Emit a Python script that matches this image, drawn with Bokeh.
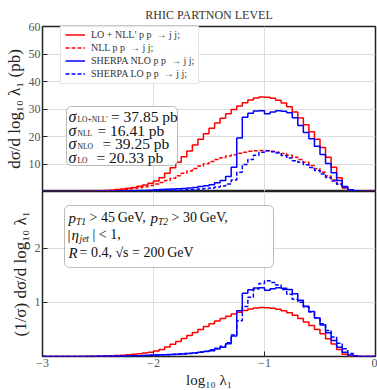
import numpy as np
from bokeh.plotting import figure
from bokeh.layouts import column
from bokeh.models import (FixedTicker, Legend, LegendItem, Label, BoxAnnotation, Range1d)
from bokeh.embed import file_html
from bokeh.resources import INLINE

# ---------------- data (histograms, 0.05 bins from -3 to 0) ----------------
BIN_START = -3.0
BIN_WIDTH = 0.05

lo_nll = [0, 0, 0, 0, 0, 0, 0, 0.05, 0.1, 0.15,
          0.25, 0.35, 0.5, 0.7, 0.9, 1.2, 1.5, 1.9, 2.4, 3.0,
          3.8, 5.0, 6.6, 8.6, 10.6, 12.6, 14.7, 16.9, 19.0, 21.0,
          23.0, 24.9, 26.6, 28.3, 29.8, 31.1, 32.3, 33.3, 34.0, 34.4,
          34.3, 33.9, 33.2, 32.2, 30.8, 28.9, 26.7, 24.3, 21.7, 19.0,
          16.0, 12.5, 8.8, 5.0, 1.5, 0.1, 0, 0, 0, 0]

nll = [0, 0, 0, 0, 0, 0, 0, 0.02, 0.05, 0.1,
       0.15, 0.25, 0.35, 0.5, 0.65, 0.85, 1.1, 1.4, 1.75, 2.2,
       2.7, 3.3, 4.0, 4.8, 5.7, 6.6, 7.5, 8.4, 9.3, 10.1,
       10.9, 11.6, 12.3, 12.9, 13.4, 13.9, 14.3, 14.6, 14.8, 14.9,
       14.8, 14.6, 14.3, 13.8, 13.2, 12.5, 11.6, 10.6, 9.5, 8.3,
       7.0, 5.6, 4.2, 2.8, 1.3, 0.2, 0, 0, 0, 0]

sherpa_nlo = [0, 0, 0, 0, 0, 0, 0, 0.02, 0.03, 0.05,
              0.07, 0.1, 0.12, 0.15, 0.2, 0.25, 0.3, 0.35, 0.4, 0.5,
              0.6, 0.7, 0.8, 0.9, 1.0, 1.1, 1.3, 1.5, 1.8, 2.1,
              2.5, 3.2, 4.0, 5.5, 8.8, 19.5, 27.0, 28.5, 29.3, 29.4,
              28.3, 28.9, 29.4, 29.2, 28.6, 26.8, 24.0, 21.5, 19.2, 16.5,
              13.5, 10.2, 6.8, 4.0, 1.8, 0.6, 0.15, 0, 0, 0]

sherpa_lo = [0, 0, 0, 0, 0, 0, 0, 0.01, 0.02, 0.03,
             0.04, 0.05, 0.06, 0.08, 0.1, 0.12, 0.14, 0.17, 0.2, 0.24,
             0.28, 0.33, 0.38, 0.44, 0.5, 0.57, 0.65, 0.75, 0.88, 1.05,
             1.3, 1.6, 2.0, 2.7, 4.2, 7.0, 9.8, 11.6, 13.2, 14.3,
             14.8, 14.5, 14.0, 13.1, 12.2, 11.2, 10.6, 9.7, 8.7, 7.6,
             6.4, 5.1, 3.8, 2.6, 1.5, 0.6, 0.15, 0, 0, 0]

series_names = ["LO + NLL\u2032 p p  \u2192 j j;", "NLL p p  \u2192 j j;",
                "SHERPA NLO p p  \u2192 j j;", "SHERPA LO p p  \u2192 j j;"]

sigma_subscripts = ["LO+NLL\u2032", "NLL", "NLO", "LO"]
sigma_values = ["37.85", "16.41", "39.25", "20.33"]

x_ticks = [-3, -2, -1, 0]
x_tick_labels = {-3: "\u22123", -2: "\u22122", -1: "\u22121", 0: "0"}
top_y_ticks = [10, 20, 30, 40, 50, 60]
bot_y_ticks = [1, 2]

TITLE = "RHIC PARTNON LEVEL"

# ---------------- geometry ----------------
FW, FH = 333, 165
LEFT = 42
TOP_Y_MAX = 60
BOT_Y_MAX = 3.055
SERIF = "Liberation Serif"
RED = "#ff0000"
BLUE = "#0000ff"

def tx(px):
    return -3 + 3.0 * (px - LEFT) / FW

def ty_top(py):
    return TOP_Y_MAX * (189 - py) / FH

def ty_bot(py):
    return BOT_Y_MAX * (354 - py) / FH

edges = BIN_START + BIN_WIDTH * np.arange(len(lo_nll) + 1)

def step_y(vals):
    v = np.asarray(vals, dtype=float)
    return np.append(v, v[-1])

def style(p):
    p.outline_line_color = "#222222"
    p.outline_line_width = 1.5
    p.grid.grid_line_color = "#dddddd"
    p.grid.grid_line_width = 1
    for ax in p.axis:
        ax.axis_line_color = None
        ax.major_tick_in = 5
        ax.major_tick_out = 0
        ax.minor_tick_line_color = None
        ax.major_tick_line_color = "#222222"
        ax.major_label_text_font = SERIF
        ax.major_label_text_font_size = "12px"
        ax.major_label_text_color = "#555555"
        ax.axis_label_text_font = SERIF
        ax.axis_label_text_font_style = "normal"
        ax.axis_label_text_font_size = "17px"
        ax.axis_label_text_color = "#222222"
        ax.major_label_standoff = 2
        ax.axis_label_standoff = 2

# ---------------- top panel ----------------
p1 = figure(frame_width=FW, frame_height=FH, output_backend="svg", toolbar_location=None,
            x_range=Range1d(-3, 0), y_range=Range1d(0, TOP_Y_MAX),
            min_border_left=LEFT, min_border_right=2, min_border_top=0, min_border_bottom=0,
            title=TITLE)
p1.title.align = "center"
p1.title.text_font = SERIF
p1.title.text_font_style = "normal"
p1.title.text_font_size = "12px"
p1.title.text_color = "#333333"
p1.title.offset = 0
p1.xaxis.visible = False
p1.xaxis.ticker = FixedTicker(ticks=x_ticks)
p1.yaxis.ticker = FixedTicker(ticks=top_y_ticks)
p1.yaxis.axis_label = "d\u03c3/d log\u2081\u2080 \u03bb\u2081 (pb)"
style(p1)

r1 = p1.step(edges, step_y(lo_nll), mode="after", line_color=RED, line_width=1.5)
r2 = p1.step(edges, step_y(nll), mode="after", line_color=RED, line_width=1.5, line_dash="4 2")
r3 = p1.step(edges, step_y(sherpa_nlo), mode="after", line_color=BLUE, line_width=1.5)
r4 = p1.step(edges, step_y(sherpa_lo), mode="after", line_color=BLUE, line_width=1.5, line_dash="4 2")

legend = Legend(items=[LegendItem(label=n, renderers=[r]) for n, r in zip(series_names, [r1, r2, r3, r4])],
                location=(18, FH - 3 - 55))
legend.label_text_font = SERIF
legend.label_text_font_size = "10px"
legend.label_text_color = "#333333"
legend.glyph_width = 20
legend.glyph_height = 11
legend.label_height = 11
legend.spacing = 2
legend.padding = 4
legend.margin = 0
legend.label_standoff = 6
legend.border_line_color = "#cccccc"
legend.background_fill_alpha = 0.9
p1.add_layout(legend)

# sigma box
p1.add_layout(BoxAnnotation(left=tx(66), right=tx(177), top=ty_top(104), bottom=ty_top(163),
                            fill_color="white", fill_alpha=0.9, line_color="#222222", line_width=1,
                            border_radius=5))
line_ys = [114, 127.5, 141, 154.5]
eq_x = [110.5, 97, 102, 96]
for sub, val, yy, ex in zip(sigma_subscripts, sigma_values, line_ys, eq_x):
    p1.add_layout(Label(x=tx(68), y=ty_top(yy), text="\u03c3", text_font=SERIF, text_font_style="italic",
                        text_font_size="16px", text_baseline="middle", text_color="#111111"))
    p1.add_layout(Label(x=tx(77), y=ty_top(yy + 3), text=sub, text_font=SERIF,
                        text_font_size="7.5px", text_baseline="middle", text_color="#111111"))
    p1.add_layout(Label(x=tx(ex), y=ty_top(yy), text="= " + val + " pb", text_font=SERIF,
                        text_font_size="15.5px", text_baseline="middle", text_color="#111111"))

# ---------------- bottom panel ----------------
p2 = figure(frame_width=FW, frame_height=FH, output_backend="svg", toolbar_location=None,
            x_range=p1.x_range, y_range=Range1d(0, BOT_Y_MAX),
            min_border_left=LEFT, min_border_right=2, min_border_top=0, min_border_bottom=0)
p2.xaxis.ticker = FixedTicker(ticks=x_ticks)
p2.xaxis.major_label_overrides = x_tick_labels
p2.yaxis.ticker = FixedTicker(ticks=bot_y_ticks)
p2.xaxis.axis_label = "log\u2081\u2080 \u03bb\u2081"
p2.yaxis.axis_label = "(1/\u03c3) d\u03c3/d log\u2081\u2080 \u03bb\u2081"
style(p2)
p2.xaxis.axis_label_text_font_size = "15px"

def normed(vals):
    v = np.asarray(vals, dtype=float)
    return v / (v.sum() * BIN_WIDTH)

p2.step(edges, step_y(normed(lo_nll)), mode="after", line_color=RED, line_width=1.5)
p2.step(edges, step_y(normed(sherpa_nlo)), mode="after", line_color=BLUE, line_width=1.5)
p2.step(edges, step_y(normed(sherpa_lo)), mode="after", line_color=BLUE, line_width=1.5, line_dash="4 2")

p2.add_layout(BoxAnnotation(left=tx(64), right=tx(273), top=ty_bot(203), bottom=ty_bot(265),
                            fill_color="white", fill_alpha=0.9, line_color="#222222", line_width=1,
                            border_radius=5))

def put(px, py, text, size="14px", italic=False):
    p2.add_layout(Label(x=tx(px), y=ty_bot(py), text=text, text_font=SERIF,
                        text_font_style="italic" if italic else "normal",
                        text_font_size=size, text_baseline="middle", text_color="#111111"))

put(68, 215, "p", size="15px", italic=True)
put(75.5, 219, "T1", size="9.5px", italic=True)
put(89, 215, "> 45\u2009GeV,")
put(150, 215, "p", size="15px", italic=True)
put(157.5, 219, "T2", size="9.5px", italic=True)
put(171, 215, "> 30\u2009GeV,")
put(67, 232, "|", size="15px")
put(71, 232, "\u03b7", size="15px", italic=True)
put(79, 236, "jet", size="9.5px", italic=True)
put(92, 232, "| < 1,")
put(68, 250, "R", size="15px", italic=True)
put(79, 250, "= 0.4,  \u221as = 200\u2009GeV")

layout = column(p1, p2, spacing=0)
open("out.html", "w").write(file_html(layout, INLINE))
